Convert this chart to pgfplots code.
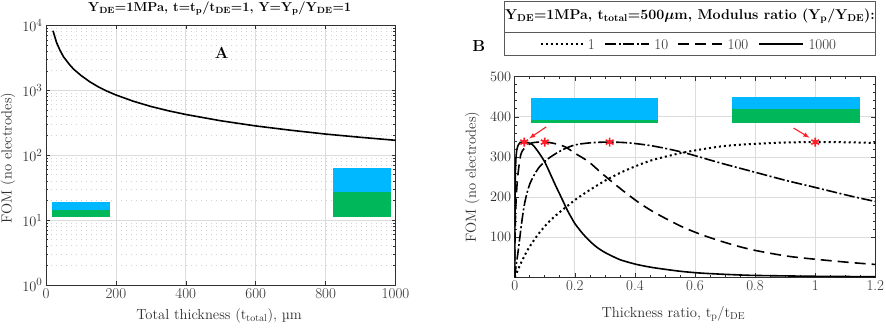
\documentclass[border=0pt]{standalone}
\usepackage{amsmath}
\usepackage{pgfplots}
\pgfplotsset{compat=1.18}
\definecolor{cblue}{HTML}{00B8FF}
\definecolor{cgreen}{HTML}{00B85A}
\definecolor{ctxt}{HTML}{303030}
\definecolor{cgrid}{HTML}{DCDCDC}
\definecolor{cdot}{HTML}{D2D2D2}
\definecolor{cred}{HTML}{FF1E28}
\tikzset{
  dotl/.style={line width=2pt,dash pattern=on 2pt off 3pt},
  dashdotl/.style={line width=1.6pt,dash pattern=on 11pt off 2.5pt on 2pt off 2.5pt},
  dashl/.style={line width=1.6pt,dash pattern=on 11pt off 6pt},
  solidl/.style={line width=1.6pt},
}
\pgfplotsset{
  common/.style={
    scale only axis,
    axis line style={color=ctxt,line width=0.8pt},
    tick style={color=ctxt,line width=0.6pt},
    major tick length=4pt, minor tick length=2.2pt,
    tick align=inside,
    ticklabel style={font=\fontsize{15}{17}\selectfont,text=ctxt},
    label style={font=\fontsize{14.6}{16}\selectfont,text=ctxt},
    major grid style={color=cgrid,line width=0.8pt},
    minor grid style={color=cdot,line width=0.9pt,dash pattern=on 1.4pt off 3.6pt},
  },
}
\begin{document}
\begin{tikzpicture}[x=1pt,y=1pt]
\path[use as bounding box] (0,0) rectangle (886,331);
% Panel A
\begin{axis}[common,
  at={(46pt,46pt)},anchor=south west,width=349.5pt,height=259.5pt,
  ymode=log,xmin=0,xmax=1000,ymin=1,ymax=10000,
  xtick={0,200,400,600,800,1000},
  xticklabels={0,200,400,600,800,1000},
  ytick={1,10,100,1000,10000},
  minor ytick={2,3,4,5,6,7,8,9,20,30,40,50,60,70,80,90,200,300,400,500,600,700,800,900,2000,3000,4000,5000,6000,7000,8000,9000},
  xmajorgrids=true,ymajorgrids=true,yminorgrids=true,
  xlabel={Total thickness (t$_{\mathrm{total}}$), µm},
  ylabel={FOM (no electrodes)},
  xlabel style={at={(axis description cs:0.495,-0.118)},anchor=center},
  ylabel style={at={(axis description cs:-0.109,0.49)},anchor=center},
]
\addplot[draw=none,fill=cblue] coordinates {(17,18.8)(183,18.8)(183,14.5)(17,14.5)} -- cycle;
\addplot[draw=none,fill=cgreen] coordinates {(17,14.5)(183,14.5)(183,11.3)(17,11.3)} -- cycle;
\addplot[draw=none,fill=cblue] coordinates {(820,64.2)(986,64.2)(986,26.8)(820,26.8)} -- cycle;
\addplot[draw=none,fill=cgreen] coordinates {(820,26.8)(986,26.8)(986,11.3)(820,11.3)} -- cycle;
\addplot[solidl,black] coordinates {(20,8300)(30,5500)(40,4150)(50,3300)(60,2800)(70,2400)(80,2100)(100,1700)(125,1360)(150,1130)(175,970)(200,850)(250,680)(300,565)(350,485)(400,425)(500,340)(600,283)(700,243)(800,212)(900,189)(1000,170)};
\end{axis}
\node[font=\fontsize{16}{18}\selectfont\bfseries] at (221.7,278.5) {A};
\node[font=\fontsize{13}{16}\selectfont\bfseries] at (219.7,322.5) {Y$_{\mathbf{DE}}$=1MPa,\ t=t$_{\mathbf{p}}$/t$_{\mathbf{DE}}$=1,\ Y=Y$_{\mathbf{p}}$/Y$_{\mathbf{DE}}$=1};
% Panel B
\begin{axis}[common,
  at={(514.7pt,53.7pt)},anchor=south west,width=360.6pt,height=200.6pt,
  xmin=0,xmax=1.2,ymin=0,ymax=500,
  xtick={0,0.2,0.4,0.6,0.8,1,1.2},
  xticklabels={0,0.2,0.4,0.6,0.8,1,1.2},
  ytick={100,200,300,400,500},
  minor x tick num=3,minor y tick num=4,
  xmajorgrids=true,ymajorgrids=true,
  xlabel={Thickness ratio, t$_{\mathrm{p}}$/t$_{\mathrm{DE}}$},
  ylabel={FOM (no electrodes)},
  xlabel style={at={(axis description cs:0.44,-0.185)},anchor=center},
  ylabel style={at={(axis description cs:-0.118,0.5)},anchor=center},
]
\addplot[draw=none,fill=cblue] coordinates {(0.055,448)(0.478,448)(0.478,392)(0.055,392)} -- cycle;
\addplot[draw=none,fill=cgreen] coordinates {(0.055,392)(0.478,392)(0.478,385)(0.055,385)} -- cycle;
\addplot[draw=none,fill=cblue] coordinates {(0.722,450)(1.15,450)(1.15,418.6)(0.722,418.6)} -- cycle;
\addplot[draw=none,fill=cgreen] coordinates {(0.722,418.6)(1.15,418.6)(1.15,385)(0.722,385)} -- cycle;
% Y ratio 1
\addplot[dotl,black,smooth,tension=0.5] coordinates {(0,0)(0.023,39)(0.046,72)(0.079,108)(0.112,137)(0.146,160)(0.179,180)(0.212,199)(0.257,221)(0.301,241)(0.35,260)(0.406,278)(0.462,293)(0.562,311)(0.684,326)(0.783,332)(0.9,336)(1,337)(1.1,336.5)(1.2,335)};
% Y ratio 10
\addplot[dashdotl,black,smooth,tension=0.5] coordinates {(0,0)(0.004,25)(0.012,68)(0.023,135)(0.034,188)(0.051,234)(0.079,272)(0.112,296)(0.157,317)(0.201,330)(0.257,335.5)(0.316,337)(0.38,335)(0.462,327)(0.562,311)(0.684,285)(0.794,263)(0.905,241)(1,224)(1.115,203)(1.2,189)};
% Y ratio 100
\addplot[dashl,black,smooth,tension=0.5] coordinates {(0,0)(0.001,100)(0.0045,190)(0.01,250)(0.02,305)(0.034,323)(0.057,335)(0.1,337)(0.135,333)(0.168,325)(0.201,309)(0.246,288)(0.29,259)(0.35,222)(0.406,190)(0.462,163)(0.551,128)(0.63,104)(0.717,83)(0.794,68)(0.905,53)(1,45)(1.115,37)(1.2,32)};
% Y ratio 1000
\addplot[solidl,black,smooth,tension=0.4] coordinates {(0,0)(0.0005,100)(0.001,180)(0.002,255)(0.004,295)(0.007,318)(0.012,330)(0.018,336)(0.0316,337)(0.045,335.5)(0.055,333)(0.065,326)(0.079,312)(0.101,286)(0.134,232)(0.15,207)(0.162,188)(0.176,166)(0.19,147)(0.201,133)(0.225,110)(0.25,90)(0.275,74)(0.3,62)(0.35,44)(0.406,32)(0.462,24)(0.551,15)(0.63,10)(0.78,5)(1,2.5)(1.2,1.5)};
\addplot[only marks,mark=asterisk,mark size=4.5pt,cred,mark options={line width=1.6pt}] coordinates {(0.0316,337)(0.1,337)(0.316,337)(1,337)};
\addplot[only marks,mark=*,mark size=2pt,cred,mark options={draw=none}] coordinates {(0.0316,337)(0.1,337)(0.316,337)(1,337)};
\draw[-latex,cred,line width=1.1pt] (axis cs:0.105,375) -- (axis cs:0.048,346);
\draw[-latex,cred,line width=1.1pt] (axis cs:0.928,372) -- (axis cs:0.981,348);
\end{axis}
\node[font=\fontsize{16}{18}\selectfont\bfseries] at (478.7,284.5) {B};
% legend box
\draw[color=ctxt!80,line width=0.8pt] (504.7,275.3) rectangle (875.3,329.3);
\draw[color=ctxt!80,line width=0.8pt] (504.7,298.7) -- (875.3,298.7);
\node[font=\fontsize{14.2}{16}\selectfont\bfseries,inner sep=0pt] at (690,315) {Y$_{\mathbf{DE}}$=1MPa, t$_{\mathbf{total}}$=500$\boldsymbol{\mu}$m, Modulus ratio (Y$_{\mathbf{p}}$/Y$_{\mathbf{DE}}$):};
\draw[dotl,black] (540.7,287) -- (582.5,287);
\node[font=\fontsize{15}{17}\selectfont,text=ctxt] at (591.3,286.5) {1};
\draw[dashdotl,black] (605.3,287) -- (648.7,287);
\node[font=\fontsize{15}{17}\selectfont,text=ctxt] at (661.3,286.5) {10};
\draw[dashl,black] (678,287) -- (722.3,287);
\node[font=\fontsize{15}{17}\selectfont,text=ctxt] at (738,286.5) {100};
\draw[solidl,black] (758.7,287) -- (803,287);
\node[font=\fontsize{15}{17}\selectfont,text=ctxt] at (822.3,286.5) {1000};
\end{tikzpicture}
\end{document}
